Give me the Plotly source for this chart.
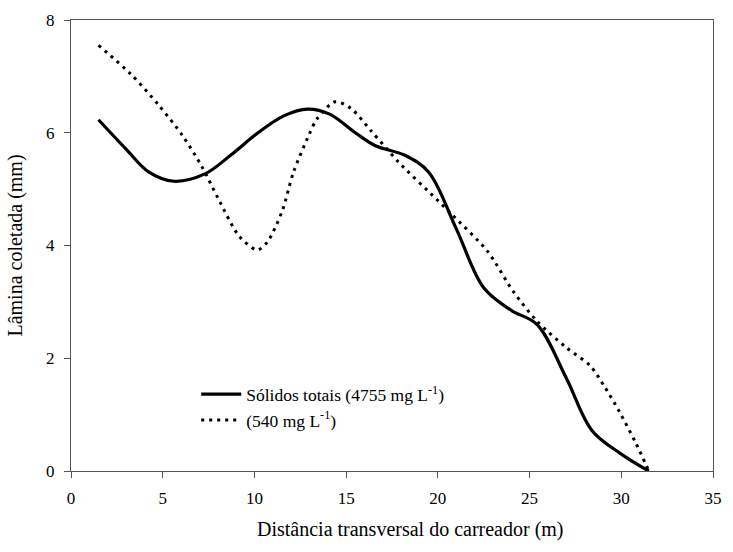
import plotly.graph_objects as go

# Solid series: Sólidos totais (4755 mg L-1)
x_solid = [1.5, 3.0, 4.25, 5.6, 7.3, 8.7, 10.2, 11.6, 12.9, 14.1, 15.5, 16.6, 18.2, 19.5, 21.0, 22.5, 24.0, 25.4, 27.0, 28.4, 30.0, 31.5]
y_solid = [6.23, 5.71, 5.30, 5.14, 5.27, 5.60, 6.00, 6.30, 6.42, 6.33, 6.00, 5.77, 5.60, 5.30, 4.30, 3.25, 2.85, 2.60, 1.65, 0.72, 0.30, 0.0]

# Dotted series: (540 mg L-1)
x_dot = [1.5, 3.26, 4.78, 6.08, 7.15, 8.0, 9.18, 10.16, 10.7, 11.5, 12.13, 12.97, 13.4, 14.4, 15.27, 16.34, 17.15, 17.85, 19.93, 20.7, 22.7, 24.1, 25.4, 27.0, 28.3, 29.1, 29.9, 30.8, 31.5]
y_dot = [7.55, 7.04, 6.49, 5.95, 5.39, 4.85, 4.16, 3.92, 4.06, 4.60, 5.30, 5.96, 6.24, 6.55, 6.43, 6.04, 5.74, 5.48, 4.82, 4.57, 3.90, 3.19, 2.66, 2.19, 1.87, 1.49, 1.05, 0.49, 0.0]

x_ticks = [0, 5, 10, 15, 20, 25, 30, 35]
y_ticks = [0, 2, 4, 6, 8]

X_TITLE = "Distância transversal do carreador (m)"
Y_TITLE = "Lâmina coletada (mm)"

FONT = "'Times New Roman', 'Liberation Serif', serif"

fig = go.Figure()
fig.add_trace(go.Scatter(
    x=x_solid, y=y_solid, mode="lines",
    line=dict(color="black", width=3.2, shape="spline", smoothing=1.0),
    name="Sólidos totais (4755 mg L<sup>-1</sup>)",
))
fig.add_trace(go.Scatter(
    x=x_dot, y=y_dot, mode="lines",
    line=dict(color="black", width=3, shape="spline", smoothing=0.8, dash="3px,5px"),
    name="(540 mg L<sup>-1</sup>)",
))

axis_common = dict(
    showline=True, linecolor="#555555", linewidth=1, mirror=True,
    showgrid=False, zeroline=False, ticks="outside", ticklen=6,
    tickcolor="#555555", tickfont=dict(family=FONT, size=17, color="black"),
)

fig.update_layout(
    width=733, height=552,
    margin=dict(l=71, r=11, t=17, b=81),
    paper_bgcolor="white", plot_bgcolor="white",
    font=dict(family=FONT, size=17, color="black"),
    xaxis=dict(range=[0, 35], tickvals=x_ticks, ticklabelstandoff=6, **axis_common),
    yaxis=dict(range=[0, 8], tickvals=y_ticks, ticklabelstandoff=6,
               title=dict(text=Y_TITLE, font=dict(family=FONT, size=20), standoff=18),
               **axis_common),
    legend=dict(x=0.195, y=0.21, xanchor="left", yanchor="top",
                bgcolor="rgba(0,0,0,0)", font=dict(family=FONT, size=17.5),
                tracegroupgap=0, itemwidth=40),
    showlegend=True,
)

fig.add_annotation(
    text=X_TITLE, xref="paper", yref="paper", x=0.529, y=-0.13,
    xanchor="center", yanchor="middle", showarrow=False,
    font=dict(family=FONT, size=20, color="black"),
)

fig.write_html("out.html")
